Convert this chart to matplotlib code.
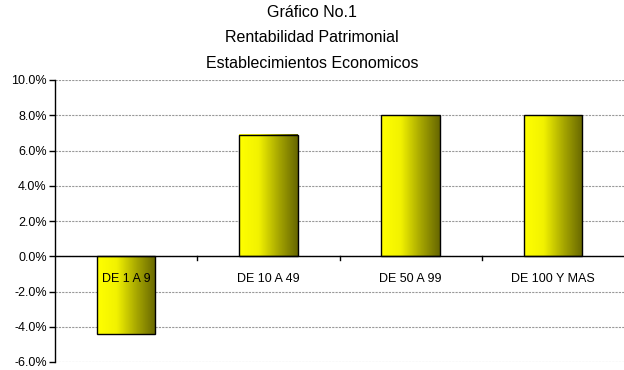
import numpy as np
import matplotlib.pyplot as plt
from matplotlib.colors import LinearSegmentedColormap
from matplotlib.ticker import FuncFormatter

# data
categorias = ["DE 1 A 9", "DE 10 A 49", "DE 50 A 99", "DE 100 Y MAS"]
rentabilidad = [-4.4, 6.9, 8.0, 8.0]
titulo = "Gráfico No.1\nRentabilidad Patrimonial\nEstablecimientos Economicos"

plt.rcParams['font.family'] = ['Liberation Sans', 'DejaVu Sans']

fig = plt.figure(figsize=(6.24, 3.70), dpi=100)
ax = fig.add_axes([55/624, 8/370, 569/624, 282/370])

x = np.arange(len(categorias))
bars = ax.bar(x, rentabilidad, width=0.41, color='none', edgecolor='black',
              linewidth=1.0, zorder=3)

# horizontal gradient yellow -> olive inside each bar
cmap = LinearSegmentedColormap.from_list('amarillo', ['#ffff00', '#f2f200', '#a8a800', '#666600'])
grad = np.linspace(0, 1, 256).reshape(1, -1)
for b in bars:
    x0, y0 = b.get_x(), b.get_y()
    w, h = b.get_width(), b.get_height()
    ax.imshow(grad, cmap=cmap, aspect='auto', extent=[x0, x0 + w, y0, y0 + h],
              zorder=2, interpolation='bilinear')

ax.set_xlim(-0.5, len(categorias) - 0.5)
ax.set_ylim(-6, 10)
ax.set_yticks(np.arange(-6, 10.1, 2))
ax.yaxis.set_major_formatter(FuncFormatter(lambda v, p: f"{v:.1f}%"))
ax.tick_params(axis='y', labelsize=9, length=4, width=1, direction='out', pad=2)

ax.grid(axis='y', color='#999999', linestyle=(0, (2, 1)), linewidth=0.8, zorder=0)
ax.set_axisbelow(True)

for s in ['top', 'right', 'bottom']:
    ax.spines[s].set_visible(False)
ax.spines['left'].set_linewidth(1.0)
ax.axhline(0, color='black', linewidth=1.0, zorder=4)

# category ticks at boundaries on zero line
ax.set_xticks([])
for xb in np.arange(0.5, len(categorias) - 0.5, 1):
    ax.plot([xb, xb], [0, -0.22], color='black', linewidth=1.0, zorder=4, clip_on=False)

for xi, cat in zip(x, categorias):
    ax.text(xi, -1.3, cat, ha='center', va='center', fontsize=9, zorder=5)

fig.text(0.5, 1 - 38/370, titulo, ha='center', va='center', fontsize=11.5, linespacing=1.85)

fig.savefig("out.png", dpi=100)
